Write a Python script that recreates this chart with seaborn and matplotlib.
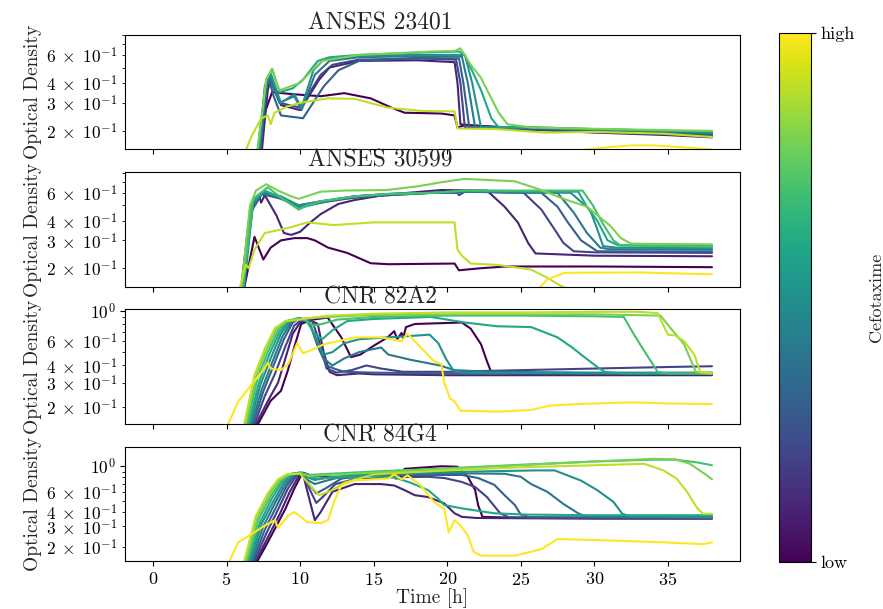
import numpy as np
import pandas as pd
import matplotlib
matplotlib.use('Agg')
import matplotlib.pyplot as plt
import seaborn as sns
from matplotlib import cm, colors, ticker

# ---------------------------------------------------------------------------
# Data: (time [h], optical density) per concentration
# level (0 = low ... 1 = high Cefotaxime)
# ---------------------------------------------------------------------------
strains = ['ANSES 23401', 'ANSES 30599', 'CNR 82A2', 'CNR 84G4']

# ANSES 23401
a23401_c00 = [(0, 0.01), (6.7, 0.1), (7.2, 0.15), (7.6, 0.26), (8.1, 0.35), (9.5, 0.34), (11.4, 0.33), (13.0, 0.345),
              (14.8, 0.32), (16.2, 0.28), (17.1, 0.26), (19.6, 0.257), (20.5, 0.25), (20.7, 0.21), (21.2, 0.217),
              (25.7, 0.207), (32.5, 0.197), (38, 0.183)]
a23401_c01 = [(0, 0.01), (6.9, 0.1), (7.4, 0.15), (7.8, 0.36), (8.0, 0.42), (8.3, 0.36), (8.7, 0.29), (10.0, 0.27),
              (11.3, 0.42), (12.0, 0.5), (14, 0.55), (18, 0.555), (20.5, 0.54), (20.7, 0.4), (20.9, 0.22), (25, 0.205),
              (30, 0.195), (35, 0.188), (38, 0.182)]
a23401_c02 = [(0, 0.01), (6.8, 0.1), (7.3, 0.15), (7.7, 0.38), (7.9, 0.44), (8.2, 0.38), (8.6, 0.3), (10.0, 0.28),
              (11.4, 0.45), (12.2, 0.52), (14, 0.56), (18, 0.57), (20.6, 0.56), (20.9, 0.4), (21.2, 0.21),
              (25, 0.205), (30, 0.198), (35, 0.19), (38, 0.186)]
a23401_c03 = [(0, 0.01), (6.8, 0.1), (7.3, 0.15), (7.7, 0.37), (7.9, 0.42), (8.2, 0.33), (8.7, 0.25), (10.2, 0.24),
              (11.6, 0.38), (12.6, 0.48), (14, 0.55), (18, 0.575), (20.8, 0.57), (21.1, 0.4), (21.5, 0.21),
              (25, 0.208), (30, 0.2), (35, 0.193), (38, 0.19)]
a23401_c04 = [(0, 0.01), (6.7, 0.1), (7.2, 0.15), (7.6, 0.38), (7.9, 0.44), (8.2, 0.37), (8.6, 0.3), (9.6, 0.33),
              (10.1, 0.27), (11.0, 0.45), (12, 0.55), (14, 0.58), (18, 0.59), (21, 0.585), (21.4, 0.4), (21.9, 0.21),
              (25, 0.21), (30, 0.203), (35, 0.197), (38, 0.193)]
a23401_c05 = [(0, 0.01), (6.7, 0.1), (7.2, 0.15), (7.7, 0.4), (8.0, 0.46), (8.3, 0.38), (8.7, 0.3), (9.6, 0.34),
              (10.1, 0.28), (10.9, 0.48), (11.6, 0.56), (14, 0.59), (18, 0.6), (21.2, 0.6), (21.7, 0.4), (22.3, 0.21),
              (25, 0.212), (30, 0.205), (35, 0.2), (38, 0.196)]
a23401_c06 = [(0, 0.01), (6.6, 0.1), (7.1, 0.15), (7.7, 0.42), (8.1, 0.49), (8.4, 0.4), (8.6, 0.35), (9.5, 0.37),
              (10.2, 0.42), (11.2, 0.55), (12, 0.58), (14, 0.6), (18, 0.62), (20.8, 0.63), (21.2, 0.6), (22.3, 0.36),
              (23.0, 0.24), (23.5, 0.21), (25, 0.21), (30, 0.205), (35, 0.2), (38, 0.198)]
a23401_c08 = [(0, 0.01), (6.6, 0.1), (7.1, 0.15), (7.7, 0.42), (8.1, 0.49), (8.4, 0.4), (8.6, 0.36), (10, 0.4),
              (11, 0.5), (11.5, 0.55), (14, 0.6), (19, 0.63), (20.5, 0.635), (20.9, 0.66), (21.6, 0.52), (22.3, 0.43),
              (23.0, 0.32), (23.5, 0.26), (24.1, 0.22), (25.7, 0.21), (30, 0.206), (35, 0.202), (38, 0.2)]
a23401_c09 = [(0, 0.01), (5.8, 0.1), (6.3, 0.15), (6.7, 0.185), (7.35, 0.239), (7.8, 0.25), (8.0, 0.22), (8.26, 0.26),
              (9.16, 0.285), (10.0, 0.3), (11.9, 0.32), (13.7, 0.318), (15.95, 0.28), (18.2, 0.267), (20.5, 0.265),
              (20.7, 0.207), (23.4, 0.205), (26.6, 0.195), (30, 0.197), (34.7, 0.192), (38, 0.183)]
a23401_c10 = [(0, 0.01), (12, 0.05), (22, 0.1), (27, 0.14), (29.5, 0.153), (31, 0.158), (32.5, 0.162), (34, 0.162),
              (36, 0.158), (38, 0.153)]

# ANSES 30599
a30599_c00 = [(0, 0.01), (5.7, 0.1), (6.2, 0.15), (6.9, 0.316), (7.5, 0.227), (8.0, 0.27), (8.7, 0.3), (9.6, 0.31),
              (10.5, 0.31), (11.0, 0.3), (11.9, 0.27), (13.2, 0.25), (14.8, 0.215), (16, 0.212), (20.5, 0.214),
              (20.8, 0.194), (22.3, 0.2), (24, 0.205), (30, 0.205), (38, 0.203)]
a30599_c01 = [(0, 0.01), (5.5, 0.1), (6.0, 0.15), (6.6, 0.45), (7.2, 0.58), (7.35, 0.52), (7.6, 0.58), (8.4, 0.43),
              (8.9, 0.334), (9.4, 0.325), (10.0, 0.34), (10.7, 0.39), (11.4, 0.44), (12.6, 0.51), (13.7, 0.54),
              (15.9, 0.585), (19.6, 0.625), (22.7, 0.62), (23.9, 0.49), (24.8, 0.39), (25.5, 0.289), (26.0, 0.248),
              (30, 0.24), (38, 0.238)]
a30599_c02 = [(0, 0.01), (5.5, 0.1), (6.0, 0.15), (6.6, 0.47), (7.3, 0.59), (8.7, 0.56), (9.9, 0.5), (11.4, 0.53),
              (13.7, 0.56), (16, 0.58), (19, 0.6), (20.7, 0.6), (20.8, 0.58), (21.2, 0.61), (25.2, 0.6), (26.4, 0.47),
              (27.3, 0.352), (27.9, 0.289), (28.6, 0.256), (30, 0.252), (38, 0.25)]
a30599_c03 = [(0, 0.01), (5.6, 0.1), (6.1, 0.15), (6.7, 0.46), (7.4, 0.59), (8.7, 0.55), (9.9, 0.49), (11.4, 0.52),
              (13.7, 0.56), (16, 0.58), (19, 0.6), (21.2, 0.61), (26.4, 0.6), (27.5, 0.49), (28.2, 0.39), (29.1, 0.3),
              (30.2, 0.256), (38, 0.255)]
a30599_c04 = [(0, 0.01), (5.6, 0.1), (6.1, 0.15), (6.8, 0.5), (7.4, 0.6), (8.7, 0.56), (9.9, 0.48), (11.4, 0.52),
              (13.7, 0.57), (16, 0.59), (19, 0.6), (21.2, 0.61), (27.5, 0.6), (28.6, 0.45), (29.5, 0.334),
              (30.4, 0.27), (31, 0.264), (38, 0.262)]
a30599_c05 = [(0, 0.01), (5.7, 0.1), (6.2, 0.15), (6.8, 0.52), (7.5, 0.61), (8.7, 0.57), (9.9, 0.5), (11.4, 0.53),
              (13.7, 0.57), (16, 0.59), (19, 0.6), (21.2, 0.615), (28.4, 0.6), (29.7, 0.47), (30.2, 0.353),
              (30.6, 0.276), (31.5, 0.27), (38, 0.268)]
a30599_c06 = [(0, 0.01), (5.6, 0.1), (6.1, 0.15), (6.8, 0.53), (7.6, 0.62), (8.7, 0.56), (9.9, 0.48), (11.4, 0.53),
              (13.7, 0.57), (16, 0.59), (19, 0.6), (21.2, 0.62), (28.9, 0.61), (29.5, 0.49), (30.2, 0.4), (30.9, 0.3),
              (31.6, 0.28), (38, 0.277)]
a30599_c07 = [(0, 0.01), (5.6, 0.1), (6.1, 0.15), (6.8, 0.55), (7.8, 0.65), (8.7, 0.56), (9.9, 0.47), (10.5, 0.5),
              (11.4, 0.53), (13.7, 0.57), (16, 0.59), (19, 0.6), (21.2, 0.62), (29.2, 0.62), (29.9, 0.5),
              (30.6, 0.38), (31.3, 0.3), (31.8, 0.278), (38, 0.274)]
a30599_c08 = [(0, 0.01), (5.5, 0.1), (6.0, 0.15), (6.6, 0.5), (7.0, 0.62), (7.7, 0.68), (8.5, 0.62), (9.4, 0.57),
              (9.9, 0.55), (11.4, 0.61), (13, 0.62), (15.9, 0.625), (18, 0.66), (19.6, 0.7), (21.2, 0.735),
              (24.6, 0.71), (26.4, 0.625), (27.9, 0.55), (29.5, 0.49), (31.1, 0.37), (31.8, 0.31), (32.5, 0.286),
              (38, 0.283)]
a30599_c09 = [(0, 0.01), (5.4, 0.1), (5.9, 0.15), (6.3, 0.21), (6.5, 0.2), (6.9, 0.262), (7.6, 0.334), (9.2, 0.36),
              (10.5, 0.39), (12.3, 0.375), (15, 0.39), (20.5, 0.39), (20.7, 0.262), (21.0, 0.24), (21.6, 0.214),
              (23.4, 0.21), (25.7, 0.196), (26.8, 0.174), (27.7, 0.155), (30, 0.125), (34, 0.1), (38, 0.09)]
a30599_c10 = [(0, 0.01), (15, 0.05), (24, 0.1), (26.0, 0.14), (26.8, 0.17), (28.0, 0.187), (33, 0.188), (38, 0.183)]

# CNR 82A2
c82a2_c00 = [(0, 0.02), (6.6, 0.1), (7.13, 0.15), (8.0, 0.222), (8.7, 0.262), (9.16, 0.366), (9.6, 0.54), (10.07, 0.8),
             (10.8, 0.86), (11.88, 0.89), (12.8, 0.64), (13.46, 0.46), (14.1, 0.48), (15.05, 0.56), (15.95, 0.64),
             (16.4, 0.71), (16.6, 0.62), (16.9, 0.69), (17.0, 0.63), (17.2, 0.76), (17.8, 0.8), (21.0, 0.82),
             (21.6, 0.74), (22.3, 0.57), (22.7, 0.43), (23.0, 0.355), (25, 0.348), (38, 0.345)]
c82a2_c01 = [(0, 0.02), (6.5, 0.1), (7.0, 0.15), (7.8, 0.22), (8.5, 0.3), (9.0, 0.45), (9.5, 0.68), (10.0, 0.82),
             (10.6, 0.86), (11.2, 0.8), (11.6, 0.5), (12.0, 0.36), (12.5, 0.34), (14, 0.35), (15, 0.345), (20, 0.34),
             (30, 0.34), (38, 0.34)]
c82a2_c02 = [(0, 0.02), (6.4, 0.1), (6.9, 0.15), (7.6, 0.24), (8.3, 0.35), (9.0, 0.55), (9.6, 0.78), (10.2, 0.87),
             (10.8, 0.86), (11.3, 0.6), (11.8, 0.38), (12.5, 0.355), (13.5, 0.37), (14.5, 0.4), (15.5, 0.38),
             (17, 0.36), (20, 0.36), (25, 0.37), (30, 0.38), (35, 0.39), (38, 0.395)]
c82a2_c03 = [(0, 0.02), (6.3, 0.1), (6.8, 0.15), (7.5, 0.26), (8.2, 0.4), (8.9, 0.62), (9.5, 0.82), (10.0, 0.88),
             (10.6, 0.85), (11.2, 0.55), (11.8, 0.4), (12.3, 0.38), (13, 0.36), (15, 0.355), (20, 0.35), (30, 0.35),
             (38, 0.35)]
c82a2_c04 = [(0, 0.02), (6.2, 0.1), (6.7, 0.15), (7.4, 0.27), (8.1, 0.42), (8.8, 0.65), (9.4, 0.83), (10.0, 0.88),
             (10.6, 0.84), (11.1, 0.6), (11.6, 0.45), (12.2, 0.4), (13.0, 0.45), (14.0, 0.5), (15.5, 0.54),
             (16.0, 0.48), (17.5, 0.44), (19.5, 0.4), (20.5, 0.37), (23, 0.36), (30, 0.355), (38, 0.355)]
c82a2_c05 = [(0, 0.02), (6.1, 0.1), (6.6, 0.15), (7.3, 0.29), (8.0, 0.45), (8.7, 0.68), (9.3, 0.84), (9.9, 0.88),
             (10.6, 0.82), (11.1, 0.62), (11.6, 0.48), (12.2, 0.5), (13.0, 0.58), (14.0, 0.62), (16, 0.64),
             (18, 0.66), (18.8, 0.67), (19.4, 0.58), (19.9, 0.45), (20.4, 0.37), (21, 0.355), (30, 0.35), (38, 0.35)]
c82a2_c06 = [(0, 0.02), (6.0, 0.1), (6.5, 0.15), (7.2, 0.3), (7.9, 0.48), (8.6, 0.7), (9.2, 0.84), (9.8, 0.88),
             (10.4, 0.85), (11.0, 0.68), (11.5, 0.62), (12.2, 0.72), (13.2, 0.84), (15, 0.87), (18.9, 0.9),
             (21.2, 0.82), (23.4, 0.77), (25.7, 0.76), (27.5, 0.64), (28.5, 0.54), (29.1, 0.48), (30.2, 0.39),
             (30.7, 0.36), (32, 0.35), (38, 0.35)]
c82a2_c07 = [(0, 0.02), (5.9, 0.1), (6.4, 0.15), (7.1, 0.32), (7.8, 0.5), (8.5, 0.72), (9.1, 0.84), (9.7, 0.87),
             (10.3, 0.86), (10.9, 0.78), (11.5, 0.8), (12.5, 0.86), (15, 0.9), (20, 0.92), (25, 0.92), (30, 0.91),
             (32.0, 0.9), (32.7, 0.67), (33.2, 0.55), (34.3, 0.36), (35, 0.35), (38, 0.35)]
c82a2_c08 = [(0, 0.02), (5.8, 0.1), (6.3, 0.15), (7.0, 0.33), (7.7, 0.52), (8.4, 0.74), (9.0, 0.84), (9.6, 0.86),
             (10.5, 0.88), (12, 0.9), (15, 0.93), (20, 0.94), (25, 0.94), (30, 0.94), (34.5, 0.92), (35.4, 0.7),
             (36.1, 0.57), (36.9, 0.36), (37.3, 0.35), (38, 0.35)]
c82a2_c09 = [(0, 0.02), (5.7, 0.1), (6.2, 0.15), (6.9, 0.34), (7.6, 0.53), (8.3, 0.75), (9.0, 0.84), (9.6, 0.85),
             (10.5, 0.88), (12, 0.92), (15, 0.95), (20, 0.97), (25, 0.97), (30, 0.98), (33, 0.98), (34.3, 0.96),
             (35.0, 0.67), (35.5, 0.66), (36.1, 0.6), (36.8, 0.48), (37.2, 0.36), (38, 0.35)]
c82a2_c10 = [(0, 0.02), (4.6, 0.1), (5.1, 0.15), (5.8, 0.22), (6.7, 0.29), (7.5, 0.37), (7.8, 0.42), (8.0, 0.38),
             (8.7, 0.37), (9.2, 0.41), (9.8, 0.58), (10.2, 0.49), (11.0, 0.53), (11.6, 0.57), (12.6, 0.6),
             (13.7, 0.64), (15.5, 0.64), (16.9, 0.6), (17.3, 0.68), (18.2, 0.54), (19.1, 0.43), (19.6, 0.41),
             (19.8, 0.3), (20.2, 0.23), (20.5, 0.22), (20.9, 0.188), (23.4, 0.185), (25.7, 0.19), (27, 0.205),
             (29, 0.21), (32.5, 0.216), (35, 0.212), (38, 0.21)]

# CNR 84G4
c84g4_c00 = [(0, 0.02), (6.6, 0.1), (7.1, 0.15), (7.8, 0.218), (9.0, 0.426), (9.6, 0.637), (10.07, 0.834),
             (10.2, 0.88), (10.7, 0.834), (12, 0.8), (13.7, 0.8), (15.05, 0.86), (16.4, 0.89), (16.5, 0.78),
             (16.7, 0.92), (16.9, 0.78), (17.1, 0.95), (19.6, 1.0), (20.7, 0.99), (21.4, 0.81), (21.9, 0.62),
             (22.1, 0.46), (22.4, 0.363), (25, 0.356), (38, 0.353)]
c84g4_c01 = [(0, 0.02), (6.5, 0.1), (7.0, 0.15), (7.8, 0.24), (8.6, 0.38), (9.3, 0.6), (9.9, 0.82), (10.2, 0.86),
             (10.5, 0.6), (11.0, 0.34), (11.4, 0.4), (12.2, 0.6), (13.7, 0.7), (15.5, 0.7), (16.4, 0.68),
             (17.1, 0.62), (17.8, 0.56), (18.7, 0.54), (19.8, 0.475), (20.5, 0.39), (21.0, 0.363), (22, 0.355),
             (30, 0.35), (38, 0.35)]
c84g4_c02 = [(0, 0.02), (6.4, 0.1), (6.9, 0.15), (7.7, 0.26), (8.5, 0.42), (9.2, 0.65), (9.8, 0.84), (10.2, 0.87),
             (10.6, 0.65), (11.1, 0.48), (11.6, 0.55), (12.4, 0.7), (13.5, 0.76), (16, 0.8), (18.7, 0.81),
             (19.8, 0.79), (21.0, 0.73), (21.9, 0.66), (22.7, 0.54), (23.6, 0.39), (24.2, 0.36), (30, 0.355),
             (38, 0.355)]
c84g4_c03 = [(0, 0.02), (6.3, 0.1), (6.8, 0.15), (7.6, 0.28), (8.4, 0.45), (9.1, 0.68), (9.7, 0.85), (10.1, 0.88),
             (10.6, 0.7), (11.1, 0.58), (11.8, 0.65), (12.8, 0.78), (14, 0.82), (17, 0.84), (21.0, 0.84),
             (22.1, 0.79), (23.2, 0.69), (23.9, 0.56), (24.6, 0.46), (25.0, 0.38), (25.6, 0.36), (30, 0.36),
             (38, 0.36)]
c84g4_c04 = [(0, 0.02), (6.2, 0.1), (6.7, 0.15), (7.5, 0.3), (8.3, 0.48), (9.0, 0.7), (9.6, 0.85), (10.0, 0.88),
             (10.5, 0.76), (11.0, 0.7), (11.8, 0.75), (13, 0.82), (16, 0.85), (20, 0.87), (23.9, 0.86),
             (25.0, 0.81), (25.7, 0.7), (26.8, 0.6), (27.9, 0.47), (28.9, 0.39), (29.3, 0.37), (30, 0.362),
             (38, 0.36)]
c84g4_c05 = [(0, 0.02), (6.1, 0.1), (6.6, 0.15), (7.4, 0.32), (8.2, 0.5), (8.9, 0.72), (9.5, 0.86), (10.0, 0.88),
             (10.5, 0.8), (11.0, 0.76), (12, 0.8), (14, 0.85), (18, 0.88), (22, 0.9), (26, 0.92), (27.3, 0.92),
             (29.1, 0.75), (30.2, 0.62), (31.3, 0.49), (31.9, 0.386), (32.5, 0.365), (38, 0.36)]
c84g4_c06 = [(0, 0.02), (6.0, 0.1), (6.5, 0.15), (7.3, 0.33), (8.1, 0.53), (8.8, 0.74), (9.4, 0.86), (10.0, 0.88),
             (10.5, 0.82), (11.2, 0.78), (12.5, 0.8), (15, 0.82), (16.4, 0.8), (17.5, 0.72), (18.7, 0.62),
             (19.4, 0.52), (19.8, 0.46), (21, 0.43), (23.2, 0.39), (25.4, 0.38), (30, 0.375), (38, 0.375)]
c84g4_c07 = [(0, 0.02), (5.9, 0.1), (6.4, 0.15), (7.2, 0.35), (8.0, 0.55), (8.7, 0.75), (9.3, 0.85), (10.0, 0.88),
             (10.6, 0.84), (12, 0.86), (15, 0.9), (20, 0.96), (25, 1.03), (30, 1.1), (34, 1.14), (35.5, 1.14),
             (37, 1.08), (38, 1.02)]
c84g4_c08 = [(0, 0.02), (5.8, 0.1), (6.3, 0.15), (7.1, 0.36), (7.9, 0.57), (8.6, 0.76), (9.2, 0.85), (10.0, 0.87),
             (10.6, 0.82), (12, 0.84), (15, 0.88), (20, 0.95), (25, 1.02), (30, 1.1), (34, 1.16), (35.5, 1.15),
             (36.5, 1.05), (37.5, 0.86), (38, 0.77)]
c84g4_c09 = [(0, 0.02), (5.7, 0.1), (6.2, 0.15), (7.0, 0.37), (7.8, 0.58), (8.5, 0.77), (9.1, 0.85), (10.0, 0.86),
             (10.6, 0.7), (11.3, 0.56), (12.2, 0.62), (13, 0.72), (15, 0.85), (20, 0.92), (25, 0.98), (30, 1.02),
             (33.4, 1.05), (34.7, 0.92), (35.6, 0.78), (36.3, 0.6), (37.0, 0.43), (37.4, 0.386), (38, 0.386)]
c84g4_c10 = [(0, 0.02), (4.7, 0.1), (5.2, 0.15), (5.8, 0.218), (6.9, 0.267), (7.6, 0.305), (8.3, 0.34), (8.5, 0.29),
             (9.2, 0.373), (9.6, 0.4), (10.5, 0.326), (11.4, 0.32), (11.9, 0.34), (12.3, 0.49), (12.8, 0.68),
             (13.7, 0.753), (15.0, 0.77), (16.0, 0.78), (16.4, 0.85), (16.9, 0.77), (17.3, 0.834), (18.2, 0.68),
             (19.1, 0.49), (19.8, 0.426), (20.1, 0.267), (20.5, 0.34), (20.9, 0.305), (21.4, 0.25), (21.8, 0.18),
             (22.3, 0.167), (24.6, 0.167), (26.4, 0.19), (27.5, 0.233), (30.2, 0.228), (34.7, 0.218),
             (37.4, 0.21), (38, 0.218)]

panel_series = {
    'ANSES 23401': {0.0: a23401_c00, 0.1: a23401_c01, 0.2: a23401_c02, 0.3: a23401_c03, 0.4: a23401_c04,
                    0.5: a23401_c05, 0.6: a23401_c06, 0.8: a23401_c08, 0.9: a23401_c09, 1.0: a23401_c10},
    'ANSES 30599': {0.0: a30599_c00, 0.1: a30599_c01, 0.2: a30599_c02, 0.3: a30599_c03, 0.4: a30599_c04,
                    0.5: a30599_c05, 0.6: a30599_c06, 0.7: a30599_c07, 0.8: a30599_c08, 0.9: a30599_c09,
                    1.0: a30599_c10},
    'CNR 82A2': {0.0: c82a2_c00, 0.1: c82a2_c01, 0.2: c82a2_c02, 0.3: c82a2_c03, 0.4: c82a2_c04, 0.5: c82a2_c05,
                 0.6: c82a2_c06, 0.7: c82a2_c07, 0.8: c82a2_c08, 0.9: c82a2_c09, 1.0: c82a2_c10},
    'CNR 84G4': {0.0: c84g4_c00, 0.1: c84g4_c01, 0.2: c84g4_c02, 0.3: c84g4_c03, 0.4: c84g4_c04, 0.5: c84g4_c05,
                 0.6: c84g4_c06, 0.7: c84g4_c07, 0.8: c84g4_c08, 0.9: c84g4_c09, 1.0: c84g4_c10},
}

y_limits = [(0.153, 0.80), (0.153, 0.81), (0.151, 1.02), (0.150, 1.48)]
x_ticks = [0, 5, 10, 15, 20, 25, 30, 35]


def log_label(v, pos):
    # label decades and the 2, 3, 4, 6 multiples like the LaTeX rendering
    e = int(np.floor(np.log10(v) + 1e-9))
    m = int(round(v / 10 ** e))
    if m == 1:
        return r'$10^{%d}$' % e
    if m in (2, 3, 4, 6):
        return r'$%d\;\times\;10^{%d}$' % (m, e)
    return ''


# ---------------------------------------------------------------------------
# Style
# ---------------------------------------------------------------------------
sns.set_style('ticks')
plt.rcParams['font.family'] = ['cmr10', 'DejaVu Serif']
plt.rcParams['mathtext.fontset'] = 'cm'
plt.rcParams['axes.formatter.use_mathtext'] = True
plt.rcParams['axes.edgecolor'] = 'black'
plt.rcParams['xtick.color'] = 'black'
plt.rcParams['ytick.color'] = 'black'

fig = plt.figure(figsize=(8.83, 6.09), dpi=100)
axes = fig.subplots(4, 1, sharex=True)
fig.subplots_adjust(left=0.1416, right=0.838, top=0.9425, bottom=0.0788, hspace=0.2)

for ax, name, ylim in zip(axes, strains, y_limits):
    rows = []
    for level, pts in panel_series[name].items():
        for t, od in pts:
            rows.append({'time': t, 'od': od, 'level': level})
    df = pd.DataFrame(rows)
    sns.lineplot(data=df, x='time', y='od', hue='level', palette='viridis', hue_norm=(0, 1),
                 estimator=None, sort=False, legend=False, linewidth=1.5, ax=ax)
    ax.set_yscale('log')
    ax.set_ylim(*ylim)
    ax.set_xlim(-1.9, 39.9)
    ax.yaxis.set_major_formatter(ticker.FuncFormatter(log_label))
    ax.yaxis.set_minor_formatter(ticker.FuncFormatter(log_label))
    ax.set_title(name, fontsize=17, x=0.415, pad=4)
    ax.set_ylabel('Optical Density', fontsize=14, labelpad=3)
    ax.set_xlabel('')
    ax.tick_params(axis='y', which='both', labelsize=12.5)
    ax.tick_params(axis='x', labelsize=13)

axes[-1].set_xticks(x_ticks)
axes[-1].set_xlabel('Time [h]', fontsize=14, labelpad=0)

# colorbar
cax = fig.add_axes([0.882, 0.077, 0.036, 0.869])
sm = cm.ScalarMappable(norm=colors.Normalize(0, 1), cmap='viridis')
cb = fig.colorbar(sm, cax=cax, ticks=[0, 1])
cb.ax.set_yticklabels(['low', 'high'])
cb.ax.tick_params(labelsize=13)
cb.set_label('Cefotaxime', fontsize=13, labelpad=10)

fig.savefig('out.png', dpi=100)
